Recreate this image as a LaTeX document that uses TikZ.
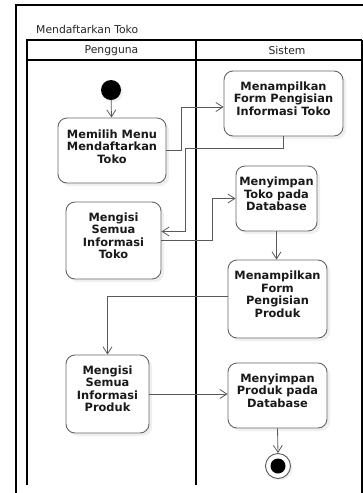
\documentclass[tikz,border=0pt]{standalone}
\usepackage{fontspec}
\setmainfont{DejaVu Sans}
\usetikzlibrary{arrows.meta, shadows}

\tikzset{
  aksi/.style={draw=black!60, line width=0.9pt, rounded corners=9pt, fill=white,
    drop shadow={shadow xshift=3pt, shadow yshift=-3pt, fill=black!12}},
  aksitext/.style={font=\bfseries\fontsize{11.4}{12.5}\selectfont, align=center,
    inner sep=0pt, text=black!90, anchor=north},
  lajur/.style={draw=black, line width=1.3pt},
  judul/.style={font=\fontsize{10.8}{12}\selectfont, text=black!85, inner sep=0pt},
  alur/.style={->, draw=black!65, line width=0.8pt},
}

\begin{document}
\begin{tikzpicture}[x=1pt, y=-1pt, >={Straight Barb[length=7pt, width=9pt]}]
    \useasboundingbox (0,0) rectangle (363,493);
    % bingkai dan swimlane
    \draw[lajur, line width=1.6pt] (16,493) -- (16,5) -- (363,5);
    \draw[lajur] (27,485) -- (27,40) -- (362,40);
    \draw[lajur, line width=1.6pt] (362,40) -- (362,493);
    \draw[lajur] (27,60) -- (362,60);
    \draw[lajur] (196,40) -- (196,485);
    \node[judul, anchor=west] (judul) at (36,29) {Mendaftarkan Toko};
    \node[judul] (pengguna) at (111.5,50.5) {Pengguna};
    \node[judul] (sistem) at (287,50.5) {Sistem};

    % aktivitas
    \node[circle, fill=black, minimum size=20pt, inner sep=0pt,
      drop shadow={shadow xshift=2pt, shadow yshift=-2pt, fill=black!12}] (mulai) at (111,90) {};
    \node[aksi, minimum width=108pt, minimum height=65pt] (pilih) at (112,150.5) {};
    \node[aksi, minimum width=119pt, minimum height=65pt] (tampilToko) at (283.5,103.5) {};
    \node[aksi, minimum width=95pt, minimum height=77pt] (isiToko) at (113.5,240.5) {};
    \node[aksi, minimum width=81pt, minimum height=65pt] (simpanToko) at (276.5,198.5) {};
    \node[aksi, minimum width=99pt, minimum height=78pt] (tampilProduk) at (277.5,299) {};
    \node[aksi, minimum width=83pt, minimum height=78pt] (isiProduk) at (107.5,394) {};
    \node[aksi, minimum width=99pt, minimum height=65pt] (simpanProduk) at (277.5,395.5) {};
    \node[circle, draw=black!65, line width=0.9pt, fill=white, minimum size=25pt, inner sep=0pt,
      drop shadow={shadow xshift=2pt, shadow yshift=-2pt, fill=black!12}] (akhir) at (278,466) {};
    \node[circle, fill=black, minimum size=15pt, inner sep=0pt] (akhirIsi) at (akhir) {};

    \node[aksitext] (pilihT) at ([yshift=-12pt]pilih.north) {Memilih Menu\\Mendaftarkan\\Toko};
    \node[aksitext] (tampilTokoT) at ([yshift=-11pt]tampilToko.north) {Menampilkan\\Form Pengisian\\Informasi Toko};
    \node[aksitext] (isiTokoT) at ([yshift=-11pt]isiToko.north) {Mengisi\\Semua\\Informasi\\Toko};
    \node[aksitext] (simpanTokoT) at ([yshift=-11.5pt]simpanToko.north) {Menyimpan\\Toko pada\\Database};
    \node[aksitext] (tampilProdukT) at ([yshift=-11.5pt]tampilProduk.north) {Menampilkan\\Form\\Pengisian\\Produk};
    \node[aksitext] (isiProdukT) at ([yshift=-11pt]isiProduk.north) {Mengisi\\Semua\\Informasi\\Produk};
    \node[aksitext] (simpanProdukT) at ([yshift=-11pt]simpanProduk.north) {Menyimpan\\Produk pada\\Database};

    % alur
    \draw[alur] (mulai) -- (pilih);
    \draw[alur] (pilih.east) -| (181,107) -- ([yshift=-3.5pt]tampilToko.west);
    \draw[alur] (tampilToko.south) |- (185,148) |- ([yshift=9pt]isiToko.east);
    \draw[alur] (isiToko.east) -| (212,198.5) -- (simpanToko.west);
    \draw[alur] (simpanToko.south) -- (simpanToko.south |- tampilProduk.north);
    \draw[alur] ([yshift=3pt]tampilProduk.west) -| (isiProduk.north);
    \draw[alur] (isiProduk.east) -- (isiProduk.east -| simpanProduk.west);
    \draw[alur] (simpanProduk.south) -- (akhir.north);
\end{tikzpicture}
\end{document}
